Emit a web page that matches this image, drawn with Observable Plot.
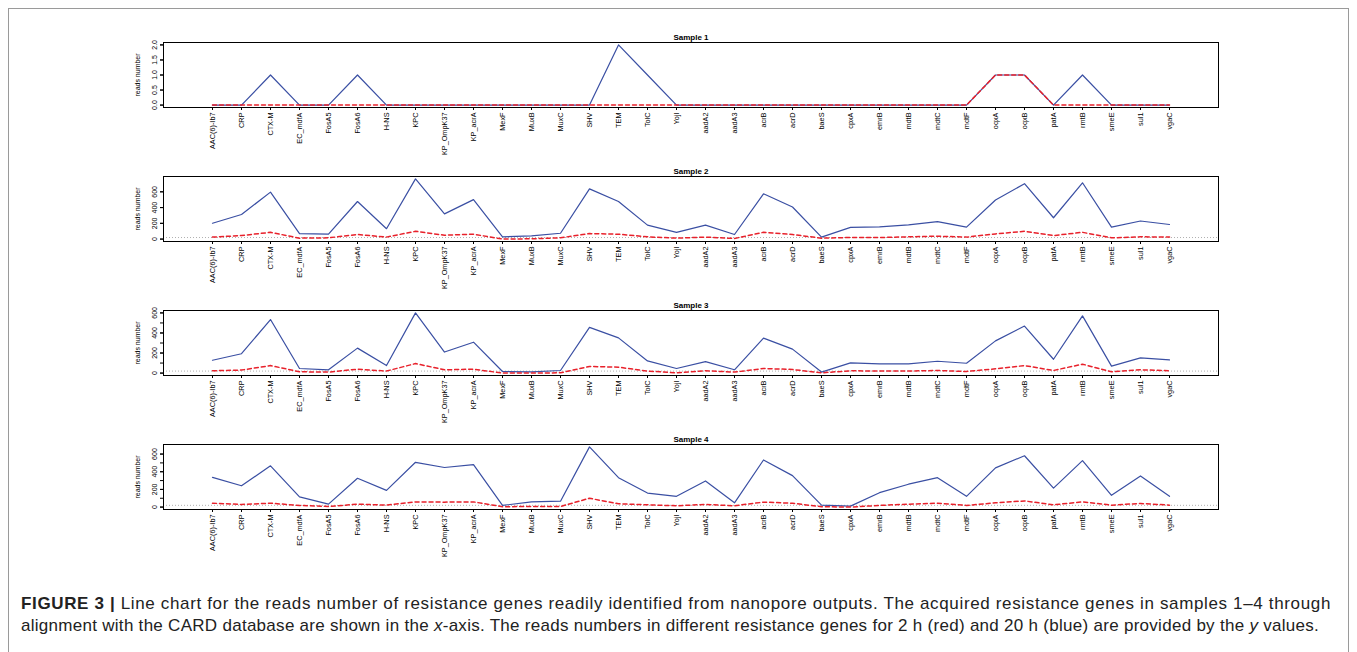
<!DOCTYPE html>
<html>
<head>
<meta charset="utf-8">
<script src="https://cdn.jsdelivr.net/npm/d3@7"></script>
<script src="https://cdn.jsdelivr.net/npm/@observablehq/plot@0.6"></script>
<style>
  html, body { margin: 0; padding: 0; background: #fff; width: 1357px; height: 652px; overflow: hidden; }
  #fig { position: absolute; left: 8px; top: 8px; width: 1341px; height: 700px; border: 1px solid #9a9a9a; box-sizing: border-box; }
  .panel { position: absolute; left: 0; }
  .cap { position: absolute; left: 21px; font-family: "Liberation Sans Narrow", "Liberation Sans", Arial, sans-serif; font-size: 17px; color: #222; white-space: nowrap; }
</style>
</head>
<body>
<div id="fig"></div>
<div id="p1" class="panel" style="top:20px"></div>
<div id="p2" class="panel" style="top:154px"></div>
<div id="p3" class="panel" style="top:288px"></div>
<div id="p4" class="panel" style="top:422px"></div>
<div id="cap1" class="cap" style="top:594px"><b>FIGURE 3 |</b> Line chart for the reads number of resistance genes readily identified from nanopore outputs. The acquired resistance genes in samples 1–4 through</div>
<div id="cap2" class="cap" style="top:616px">alignment with the CARD database are shown in the <i>x</i>-axis. The reads numbers in different resistance genes for 2 h (red) and 20 h (blue) are provided by the <i>y</i> values.</div>
<script>
const genes = ["AAC(6)-Ib7","CRP","CTX-M","EC_mdfA","FosA5","FosA6","H-NS","KPC","KP_OmpK37","KP_acrA",
  "MexF","MuxB","MuxC","SHV","TEM","TolC","YojI","aadA2","aadA3","acrB",
  "acrD","baeS","cpxA","emrB","mdtB","mdtC","mdtF","oqxA","oqxB","patA",
  "rmtB","smeE","sul1","vgaC"];

const titles = ["Sample 1","Sample 2","Sample 3","Sample 4"];

// 20 h (blue)
const s1_20h = [0,0,1,0,0,1,0,0,0,0, 0,0,0,0,2,1,0,0,0,0, 0,0,0,0,0,0,0,1,1,0, 1,0,0,0];
const s2_20h = [201,312,596,70,62,477,132,764,320,501, 29,41,74,637,477,177,86,177,58,575, 407,25,148,156,181,222,152,497,703,271, 715,152,230,185];
const s3_20h = [128,193,534,46,33,249,75,600,210,308, 16,13,26,456,351,121,46,115,33,348, 239,10,102,92,92,118,98,321,469,138, 570,69,151,131];
const s4_20h = [337,241,467,115,33,326,189,507,448,481, 19,59,67,681,333,159,122,296,48,533, 356,22,11,163,259,333,122,444,581,215, 526,133,352,122];

// 2 h (red)
const s1_2h = [0,0,0,0,0,0,0,0,0,0, 0,0,0,0,0,0,0,0,0,0, 0,0,0,0,0,0,0,1,1,0, 0,0,0,0];
const s2_2h = [25,45,86,12,16,58,25,99,49,62, 0,4,16,70,62,29,12,25,8,86, 58,12,20,20,29,37,25,66,99,45, 86,16,29,25];
const s3_2h = [23,30,75,13,10,39,20,95,33,39, 0,0,3,66,59,20,3,23,10,46, 36,3,23,20,20,26,16,43,75,26, 89,13,33,23];
const s4_2h = [44,30,44,19,7,33,22,59,56,59, 4,7,7,100,37,26,15,30,15,56, 44,4,0,19,33,44,19,48,70,26, 59,22,41,22];

// y ticks (all tick marks) and labelled ticks
const s1_ticks = [0,0.5,1,1.5,2];
const s1_labels = [0,0.5,1,1.5,2];
const s2_ticks = [0,200,400,600];
const s2_labels = [0,200,400,600];
const s3_ticks = [0,100,200,300,400,500,600];
const s3_labels = [0,200,400,600];
const s4_ticks = [0,100,200,300,400,500,600];
const s4_labels = [0,200,400,600];

// dotted reference level
const refLevel = [null, 20, 20, 20];

const panels = [
  [s1_20h, s1_2h, s1_ticks, s1_labels, d3.format(".1f")],
  [s2_20h, s2_2h, s2_ticks, s2_labels, d3.format("d")],
  [s3_20h, s3_2h, s3_ticks, s3_labels, d3.format("d")],
  [s4_20h, s4_2h, s4_ticks, s4_labels, d3.format("d")]
];

const BLUE = "#3a4fa3", RED = "#e8212b";

function panel(k) {
  const [blue, red, ticks, labels, fmt] = panels[k];
  const all = blue.concat(red);
  const lo = d3.min(all), hi = d3.max(all), pad = (hi - lo) * 0.04;
  const data = genes.map((g, i) => ({gene: g, b: blue[i], r: red[i]}));
  const marks = [];
  if (refLevel[k] != null) marks.push(Plot.ruleY([refLevel[k]], {stroke: "#b0b0b0", strokeDasharray: "1,2", strokeWidth: 1}));
  marks.push(
    Plot.axisX({tickRotate: -90, tickSize: 3, tickPadding: 2, fontSize: 7.3, label: null, stroke: "#000"}),
    Plot.axisY(ticks, {tickSize: 3, tickFormat: () => "", label: null, stroke: "#000"}),
    Plot.axisY(labels, {tickSize: 3, tickRotate: -90, tickPadding: 4, fontSize: 7, tickFormat: fmt,
      label: "reads number", labelAnchor: "center", labelOffset: 28, labelArrow: "none", stroke: "#000"}),
    Plot.lineY(data, {x: "gene", y: "b", stroke: BLUE, strokeWidth: 1.2}),
    Plot.lineY(data, {x: "gene", y: "r", stroke: RED, strokeWidth: 1.5, strokeDasharray: "4,3"}),
    Plot.frame({stroke: "#000", strokeWidth: 1}),
    Plot.text([titles[k]], {frameAnchor: "top", lineAnchor: "bottom", dy: -3, fontWeight: "bold", fontSize: 8, fill: "#000"})
  );
  return Plot.plot({
    width: 1357, height: 134,
    marginLeft: 163, marginRight: 139, marginTop: 22, marginBottom: 47,
    style: {fontFamily: "'Liberation Sans', Arial, sans-serif", background: "transparent", color: "#000", overflow: "visible"},
    x: {type: "point", domain: genes, padding: 1.32},
    y: {domain: [lo - pad, hi + pad]},
    marks
  });
}

for (let k = 0; k < 4; k++) document.getElementById("p" + (k + 1)).appendChild(panel(k));

// fit caption lines to their measured widths in the reference
function fit(id, target) {
  const el = document.getElementById(id);
  const n = el.textContent.length;
  const w = el.getBoundingClientRect().width;
  el.style.letterSpacing = ((target - w) / n) + "px";
}
fit("cap1", 1310);
fit("cap2", 1298);
</script>
</body>
</html>
